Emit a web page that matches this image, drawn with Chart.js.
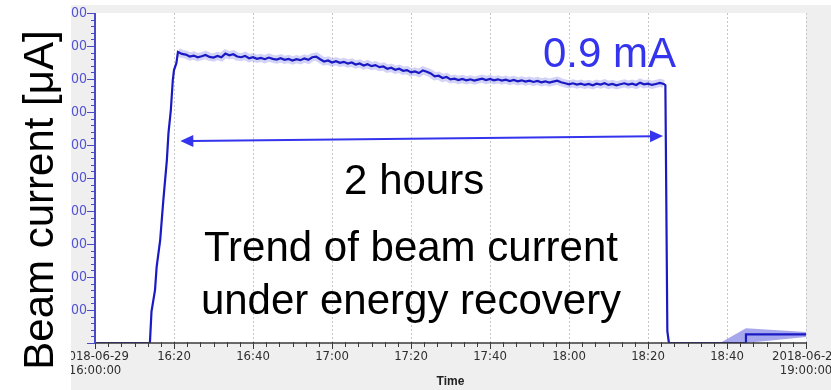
<!DOCTYPE html>
<html lang="en">
<head>
<meta charset="UTF-8">
<title>Beam current trend</title>
<script src="https://cdn.jsdelivr.net/npm/chart.js"></script>
<style>
  html, body { margin: 0; padding: 0; background: #fff; }
  #chart { display: block; }
</style>
</head>
<body>
<canvas id="chart" width="831" height="390"></canvas>
<script>
// time axis is in minutes after 2018-06-29 16:00:00
const xTickLabels = [['2018-06-29', '16:00:00'], '16:20', '16:40', '17:00', '17:20', '17:40', '18:00', '18:20', '18:40', ['2018-06-29', '19:00:00']];
const yTickLabels = ['', '100', '200', '300', '400', '500', '600', '700', '800', '900', '1000'];

// beam off, then ramp up (uA)
const rampTimes  = [0, 13.9, 14.3, 15.2, 15.6, 16.5, 17.3, 18.2, 18.6, 19.2, 19.7, 20.0, 20.6];
const rampValues = [0, 0, 95, 161, 230, 312, 433, 555, 636, 706, 797, 827, 848];

// energy recovery run
const runTimes = [
  21, 22, 23, 24, 25, 26, 27, 28, 29, 30, 31, 32, 33, 34, 35, 36, 37, 38, 39, 40,
  41, 42, 43, 44, 45, 46, 47, 48, 49, 50, 51, 52, 53, 54, 55, 56, 57, 58, 59, 60,
  61, 62, 63, 64, 65, 66, 67, 68, 69, 70, 71, 72, 73, 74, 75, 76, 77, 78, 79, 80,
  81, 82, 83, 84, 85, 86, 87, 88, 89, 90, 91, 92, 93, 94, 95, 96, 97, 98, 99, 100,
  101, 102, 103, 104, 105, 106, 107, 108, 109, 110, 111, 112, 113, 114, 115, 116, 117, 118, 119, 120,
  121, 122, 123, 124, 125, 126, 127, 128, 129, 130, 131, 132, 133, 134, 135, 136, 137, 138, 139, 140,
  141, 142, 143, 144
];
const runValues = [
  882, 876, 874, 868, 871, 866, 869, 873, 867, 865, 870, 866, 877, 872, 875, 868, 866, 870, 863, 866,
  861, 864, 860, 865, 861, 859, 863, 858, 861, 856, 860, 857, 862, 858, 866, 868, 860, 853, 856, 850,
  854, 849, 852, 847, 850, 844, 847, 841, 845, 839, 842, 836, 838, 831, 834, 828, 831, 825, 827, 820,
  823, 818, 826, 822, 817, 808, 810, 803, 806, 799, 801, 797, 800, 796, 799, 795, 798, 801, 797, 800,
  796, 799, 795, 798, 794, 797, 793, 796, 792, 795, 791, 794, 790, 793, 789, 792, 795, 790, 787, 784,
  787, 783, 786, 782, 785, 781, 786, 783, 787, 782, 785, 781, 784, 787, 783, 786, 782, 789, 784, 786,
  782, 785, 788, 785
];

// beam dump and what follows
const tailTimes  = [144.4, 144.9, 145.3, 164.8, 164.8, 180];
const tailValues = [781, 35, 0, 0, 26, 26];

// min/max envelope of the last samples
const bandTimes = [158.2, 164.8, 180];
const bandMax   = [0, 45, 33];
const bandMin   = [0, 0, 18];

const pts = (xs, ys) => xs.map((x, i) => ({ x: x, y: ys[i] }));

const tickFont = "'Liberation Sans Narrow', 'DejaVu Sans Condensed', sans-serif";
const textFont = "'Liberation Sans', Arial, sans-serif";

// frame, dotted grid, axes with minor ticks, annotations
const decor = {
  id: 'decor',
  beforeDraw(chart) {
    const { ctx, chartArea: a } = chart;
    ctx.save();
    ctx.fillStyle = '#ffffff';
    ctx.fillRect(0, 0, chart.width, chart.height);
    ctx.fillStyle = '#efefef';
    ctx.fillRect(71, 5, chart.width - 71, chart.height - 5);
    ctx.fillStyle = '#ffffff';
    ctx.fillRect(a.left, a.top, a.right - a.left, a.bottom - a.top);
    ctx.restore();
  },
  beforeDatasetsDraw(chart) {
    const { ctx, chartArea: a, scales: { x } } = chart;
    ctx.save();
    ctx.strokeStyle = '#c6c6c6';
    ctx.lineWidth = 1;
    ctx.setLineDash([2, 2]);
    x.ticks.forEach(t => {
      if (t.value === 0) return;
      const px = Math.round(x.getPixelForValue(t.value)) + 0.5;
      ctx.beginPath();
      ctx.moveTo(px, a.top);
      ctx.lineTo(px, a.bottom);
      ctx.stroke();
    });
    ctx.restore();
  },
  afterDatasetsDraw(chart) {
    const { ctx, chartArea: a, scales: { x, y } } = chart;
    ctx.save();

    // x axis
    ctx.strokeStyle = '#3a3a3a';
    ctx.lineWidth = 1.5;
    ctx.beginPath();
    ctx.moveTo(a.left, a.bottom);
    ctx.lineTo(a.right, a.bottom);
    ctx.stroke();
    ctx.lineWidth = 1;
    for (let i = 0; i <= 54; i++) {
      const px = Math.round(x.getPixelForValue(i * 20 / 6)) + 0.5;
      const major = i % 6 === 0;
      ctx.beginPath();
      ctx.moveTo(px, a.bottom - 1);
      ctx.lineTo(px, a.bottom + (major ? 6 : 4));
      ctx.stroke();
    }

    // y axis
    ctx.strokeStyle = '#4b4bc8';
    ctx.lineWidth = 2;
    ctx.beginPath();
    ctx.moveTo(a.left, a.top);
    ctx.lineTo(a.left, a.bottom);
    ctx.stroke();
    ctx.lineWidth = 1;
    for (let v = 0; v <= 1000; v += 20) {
      const py = Math.round(y.getPixelForValue(v)) + 0.5;
      const major = v % 100 === 0;
      ctx.beginPath();
      ctx.moveTo(a.left - (major ? 8 : 4), py);
      ctx.lineTo(a.left, py);
      ctx.stroke();
    }

    // double arrow spanning the run
    const x1 = x.getPixelForValue(21.6), y1 = y.getPixelForValue(612);
    const x2 = x.getPixelForValue(143.8), y2 = y.getPixelForValue(627);
    const ang = Math.atan2(y2 - y1, x2 - x1);
    ctx.strokeStyle = '#3434ee';
    ctx.fillStyle = '#3434ee';
    ctx.lineWidth = 2;
    ctx.beginPath();
    ctx.moveTo(x1 + 10, y1 + 10 * Math.sin(ang));
    ctx.lineTo(x2 - 10, y2 - 10 * Math.sin(ang));
    ctx.stroke();
    const head = (hx, hy, dir) => {
      ctx.save();
      ctx.translate(hx, hy);
      ctx.rotate(ang + dir);
      ctx.beginPath();
      ctx.moveTo(0, 0);
      ctx.lineTo(-13, -6);
      ctx.lineTo(-13, 6);
      ctx.closePath();
      ctx.fill();
      ctx.restore();
    };
    head(x2, y2, 0);
    head(x1, y1, Math.PI);

    // labels
    ctx.font = '42px ' + textFont;
    ctx.textBaseline = 'alphabetic';
    ctx.fillStyle = '#3434ee';
    ctx.textAlign = 'left';
    ctx.fillText('0.9 mA', x.getPixelForValue(113.4), y.getPixelForValue(836));
    ctx.fillStyle = '#000000';
    ctx.textAlign = 'center';
    ctx.fillText('2 hours', x.getPixelForValue(80.8), y.getPixelForValue(452));
    ctx.fillText('Trend of beam current', x.getPixelForValue(80), y.getPixelForValue(248));
    ctx.fillText('under energy recovery', x.getPixelForValue(80), y.getPixelForValue(88));
    ctx.restore();
  },
  afterDraw(chart) {
    const { ctx } = chart;
    ctx.save();
    ctx.fillStyle = '#ffffff';
    ctx.fillRect(0, 0, 71, chart.height);
    ctx.translate(53, 200);
    ctx.rotate(-Math.PI / 2);
    ctx.font = '42px ' + textFont;
    ctx.fillStyle = '#000000';
    ctx.textAlign = 'center';
    ctx.textBaseline = 'alphabetic';
    ctx.fillText('Beam current [\u03bcA]', 0, 0);
    ctx.restore();
  }
};

const noPad = scale => {
  scale.paddingLeft = 0;
  scale.paddingRight = 0;
  scale.paddingTop = 0;
  scale.paddingBottom = 0;
};

new Chart(document.getElementById('chart'), {
  type: 'scatter',
  data: {
    datasets: [
      {
        data: pts(rampTimes.concat(runTimes, tailTimes), rampValues.concat(runValues, tailValues)),
        showLine: true,
        borderColor: '#1a1ac4',
        borderWidth: 2.2,
        pointRadius: 0,
        tension: 0,
        order: 0
      },
      {
        data: pts(runTimes, runValues),
        showLine: true,
        borderColor: 'rgba(110, 110, 230, 0.3)',
        borderWidth: 8,
        pointRadius: 0,
        order: 1
      },
      {
        data: pts(bandTimes, bandMax),
        showLine: true,
        borderWidth: 0,
        pointRadius: 0,
        backgroundColor: 'rgba(120, 120, 228, 0.65)',
        fill: '+1',
        order: 2
      },
      {
        data: pts(bandTimes, bandMin),
        showLine: true,
        borderWidth: 0,
        pointRadius: 0,
        order: 3
      }
    ]
  },
  options: {
    responsive: false,
    animation: false,
    devicePixelRatio: 1,
    layout: { padding: { left: 0, top: 13, right: 25, bottom: 0 } },
    plugins: {
      legend: { display: false },
      tooltip: { enabled: false }
    },
    scales: {
      x: {
        type: 'linear',
        min: 0,
        max: 180,
        grid: { display: false, drawTicks: false },
        border: { display: false },
        ticks: {
          stepSize: 20,
          autoSkip: false,
          maxRotation: 0,
          padding: 6,
          color: '#2e2e2e',
          font: { family: tickFont, size: 13, lineHeight: 1.1 },
          callback: (v, i) => xTickLabels[i]
        },
        title: {
          display: true,
          text: 'Time',
          color: '#222222',
          font: { family: textFont, size: 12, weight: 'bold' },
          padding: { top: 0, bottom: 1 }
        },
        afterFit: scale => { scale.height = 47; noPad(scale); }
      },
      y: {
        min: 0,
        max: 1000,
        grid: { display: false, drawTicks: false },
        border: { display: false },
        ticks: {
          stepSize: 100,
          padding: 8,
          color: '#5252d4',
          font: { family: tickFont, size: 14 },
          callback: (v, i) => yTickLabels[i]
        },
        afterFit: scale => { scale.width = 95; noPad(scale); }
      }
    }
  },
  plugins: [decor]
});
</script>
</body>
</html>
